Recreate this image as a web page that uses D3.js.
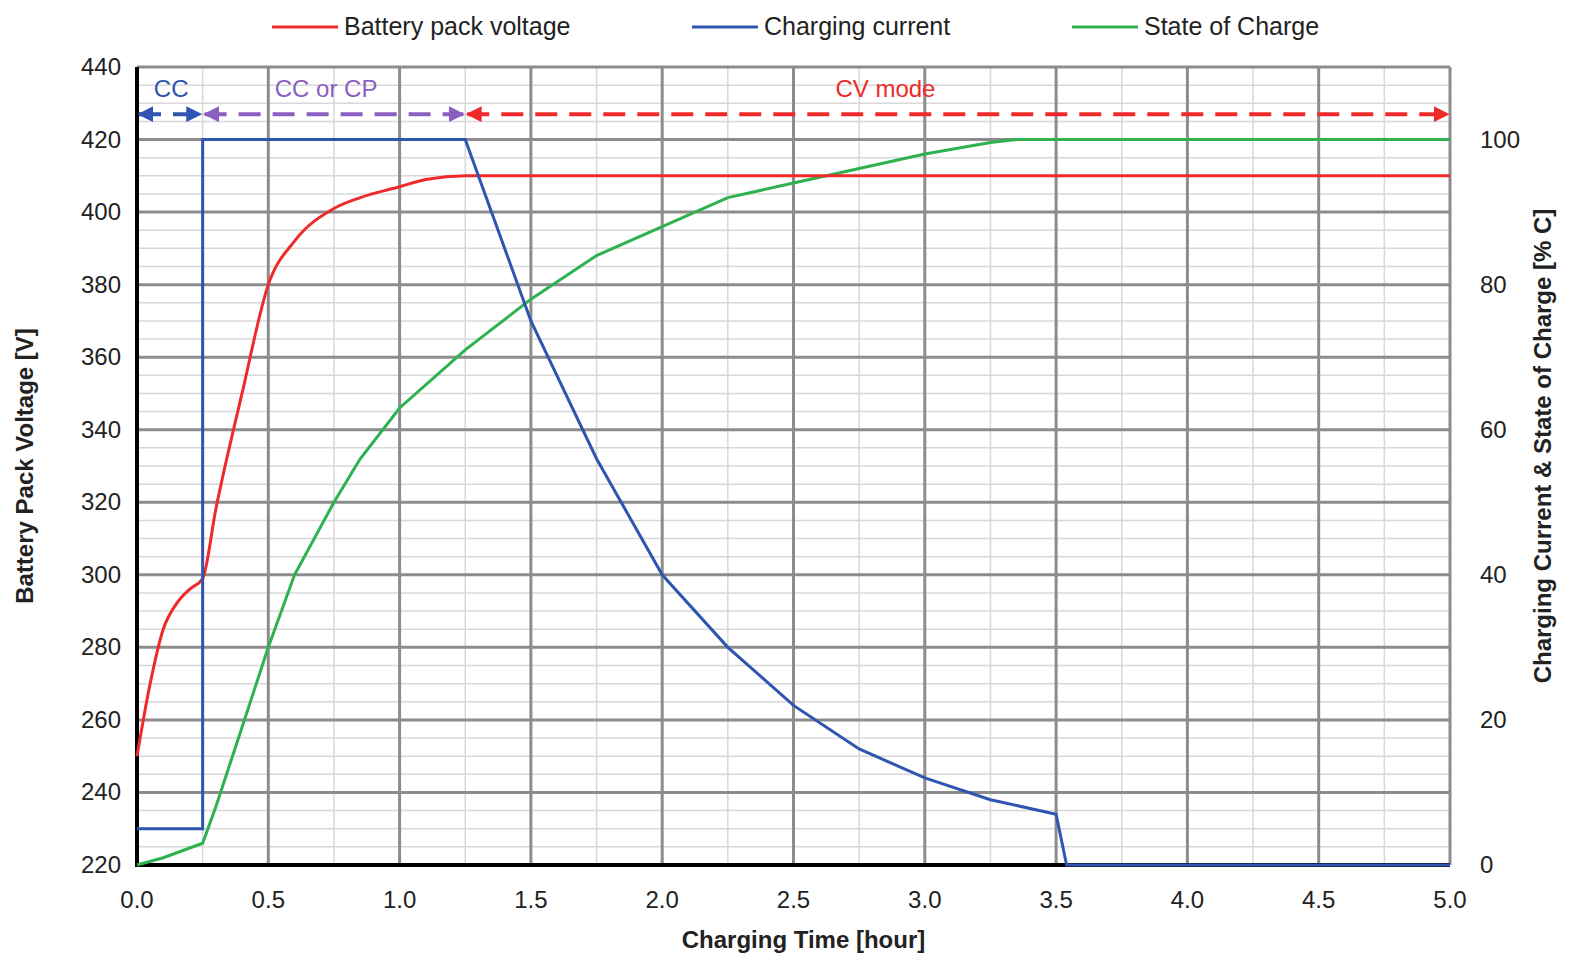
<!DOCTYPE html>
<html><head><meta charset="utf-8">
<script src="https://cdn.jsdelivr.net/npm/d3@7"></script>
<style>body{margin:0;background:#fff}svg{font-family:"Liberation Sans",Arial,sans-serif}</style>
</head><body><svg id="c" width="1575" height="967"></svg>
<script>
const voltT=[0,0.05,0.1,0.15,0.2,0.25,0.3,0.4,0.5,0.6,0.75,0.85,1.0,1.1,1.25,1.35,5.0];
const voltV=[250,270,285,292,296,299,318,350,380,392,401,404,407,409,410,410,410];
const curT=[0,0.25,0.25,1.25,1.5,1.75,2.0,2.25,2.5,2.75,3.0,3.25,3.5,3.54,5.0];
const curV=[5,5,100,100,75,56,40,30,22,16,12,9,7,0,0];
const socT=[0,0.1,0.25,0.3,0.4,0.5,0.6,0.75,0.85,1.0,1.25,1.5,1.75,2.0,2.25,2.5,2.75,3.0,3.25,3.35,5.0];
const socV=[0,1,3,8,19,30,40,50,56,63,71,78,84,88,92,94,96,98,99.6,100,100];
const xTicks=[0,0.5,1,1.5,2,2.5,3,3.5,4,4.5,5];
const yLTicks=[220,240,260,280,300,320,340,360,380,400,420,440];
const yRTicks=[0,20,40,60,80,100];
const legendNames=["Battery pack voltage","Charging current","State of Charge"];
const colors=["#ee2a2a","#2f55b0","#2db24f"];

const svg=d3.select("#c");
const L=137,R=1450,T=67,B=865;
const x=d3.scaleLinear().domain([0,5]).range([L,R]);
const yL=d3.scaleLinear().domain([220,440]).range([B,T]);
const yR=d3.scaleLinear().domain([0,110]).range([B,T]);
const g=svg.append("g");
d3.range(220,441,5).forEach(v=>{if(v%20)g.append("line").attr("x1",L).attr("x2",R).attr("y1",yL(v)).attr("y2",yL(v)).attr("stroke","#d8d8d8").attr("stroke-width",1.5);});
d3.range(0.25,5,0.5).forEach(v=>g.append("line").attr("y1",T).attr("y2",B).attr("x1",x(v)).attr("x2",x(v)).attr("stroke","#d8d8d8").attr("stroke-width",1.5));
yLTicks.forEach(v=>g.append("line").attr("x1",L).attr("x2",R).attr("y1",yL(v)).attr("y2",yL(v)).attr("stroke","#8c8c8c").attr("stroke-width",3));
xTicks.forEach(v=>g.append("line").attr("y1",T).attr("y2",B).attr("x1",x(v)).attr("x2",x(v)).attr("stroke","#8c8c8c").attr("stroke-width",3));
g.append("line").attr("x1",L).attr("x2",L).attr("y1",T).attr("y2",B+2).attr("stroke","#000").attr("stroke-width",4);
g.append("line").attr("x1",L-2).attr("x2",R).attr("y1",B).attr("y2",B).attr("stroke","#000").attr("stroke-width",4);

const ax=svg.append("g").style("font-size","24px").attr("fill","#222");
xTicks.forEach(v=>ax.append("text").attr("x",x(v)).attr("y",B+43).attr("text-anchor","middle").text(v.toFixed(1)));
yLTicks.forEach(v=>ax.append("text").attr("x",L-16).attr("y",yL(v)+8).attr("text-anchor","end").text(v));
yRTicks.forEach(v=>ax.append("text").attr("x",R+30).attr("y",yR(v)+8).attr("text-anchor","start").text(v));
svg.append("text").attr("x",(L+R)/2+10).attr("y",948).attr("text-anchor","middle").style("font-size","24px").style("font-weight","bold").attr("fill","#222").text("Charging Time [hour]");
svg.append("text").attr("transform",`translate(33,${(T+B)/2}) rotate(-90)`).attr("text-anchor","middle").style("font-size","24px").style("font-weight","bold").attr("fill","#222").text("Battery Pack Voltage [V]");
svg.append("text").attr("transform",`translate(1551,${(T+B)/2-20}) rotate(-90)`).attr("text-anchor","middle").style("font-size","24px").style("font-weight","bold").attr("fill","#222").text("Charging Current & State of Charge [% C]");

const line=(ys)=>d3.line().x(d=>x(d[0])).y(d=>ys(d[1]));
const pl=svg.append("g").attr("fill","none").attr("stroke-width",3);
pl.append("path").attr("d",line(yR)(d3.zip(socT,socV))).attr("stroke",colors[2]);
pl.append("path").attr("stroke",colors[0]).attr("d",d3.line().curve(d3.curveMonotoneX).x(d=>x(d[0])).y(d=>yL(d[1]))(d3.zip(voltT,voltV)));
pl.append("path").attr("d",line(yR)(d3.zip(curT,curV))).attr("stroke",colors[1]);

const ay=yL(427);
const defs=svg.append("defs");
[["bl","#2f55b0"],["pu","#8a5fc0"],["rd","#ee2a2a"]].forEach(([id,c])=>{
 defs.append("marker").attr("id","e"+id).attr("viewBox","0 0 10 10").attr("refX",9).attr("refY",5).attr("markerWidth",4).attr("markerHeight",4).attr("orient","auto").append("path").attr("d","M0,0L10,5L0,10z").attr("fill",c);
 defs.append("marker").attr("id","s"+id).attr("viewBox","0 0 10 10").attr("refX",1).attr("refY",5).attr("markerWidth",4).attr("markerHeight",4).attr("orient","auto").append("path").attr("d","M10,0L0,5L10,10z").attr("fill",c);
});
const modes=[[0,0.25,"bl","#2f55b0","CC",0.13],[0.25,1.25,"pu","#8a5fc0","CC or CP",0.72],[1.25,5,"rd","#ee2a2a","CV mode",2.85]];
modes.forEach(([a,b,id,c,lab,lx])=>{
 svg.append("line").attr("x1",x(a)+2).attr("x2",x(b)-2).attr("y1",ay).attr("y2",ay).attr("stroke",c).attr("stroke-width",4).attr("stroke-dasharray","22,12").attr("marker-start",`url(#s${id})`).attr("marker-end",`url(#e${id})`);
 svg.append("text").attr("x",x(lx)).attr("y",ay-17).attr("text-anchor","middle").style("font-size","24px").attr("fill",c).text(lab);
});

const lx=[272,692,1072];
legendNames.forEach((n,i)=>{
 svg.append("line").attr("x1",lx[i]).attr("x2",lx[i]+66).attr("y1",27).attr("y2",27).attr("stroke",colors[i]).attr("stroke-width",3);
 svg.append("text").attr("x",lx[i]+72).attr("y",35).style("font-size","25px").attr("fill","#222").text(n);
});
</script></body></html>
